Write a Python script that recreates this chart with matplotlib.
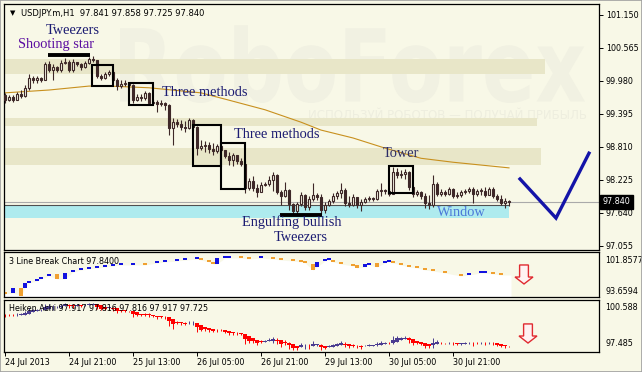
import matplotlib as mpl
import matplotlib.pyplot as plt
from matplotlib.patches import Rectangle, Polygon, PathPatch
from matplotlib.textpath import TextPath
from matplotlib.font_manager import FontProperties
from matplotlib.transforms import Affine2D
import numpy as np

mpl.rcParams['font.family'] = 'DejaVu Sans'

W, H = 642, 372
BG = '#F8F8E7'
BAND = '#E8E6C8'
CANDLE = '#3E2828'
NAVY = '#1C1C72'
FS = 5.8

# ---- USDJPY H1 candles (open of each bar = previous close) ----
first_open = 99.73
closes = [99.64, 99.70, 99.64, 99.75, 99.71, 99.86, 100.03, 100.00, 100.03, 100.00,
          100.28, 100.18, 100.23, 100.18, 100.30, 100.32, 100.18, 100.32, 100.28, 100.23,
          100.30, 100.37, 100.35, 100.07, 100.03, 100.10, 100.14, 100.00, 99.89, 99.93,
          99.95, 99.91, 99.64, 99.70, 99.68, 99.77, 99.59, 99.61, 99.57, 99.59,
          99.56, 99.15, 99.25, 99.22, 99.17, 99.15, 99.29, 99.17, 98.79, 98.83,
          98.85, 98.78, 98.74, 98.83, 98.76, 98.65, 98.58, 98.67, 98.56, 98.51,
          98.08, 98.21, 98.08, 98.01, 98.14, 98.15, 98.23, 98.31, 98.01, 97.94,
          98.05, 97.80, 97.68, 97.80, 97.96, 97.75, 97.89, 97.96, 97.92, 97.69,
          97.78, 97.85, 97.94, 97.99, 98.05, 97.82, 97.78, 97.92, 97.78, 97.84,
          97.89, 97.91, 97.89, 98.03, 98.05, 98.03, 97.98, 98.37, 98.31, 98.33,
          98.37, 98.10, 97.98, 98.01, 97.94, 97.82, 97.78, 98.15, 97.98, 98.01,
          97.98, 98.07, 97.94, 97.96, 98.01, 98.03, 98.07, 97.98, 98.03, 98.03,
          97.96, 98.07, 97.94, 97.89, 97.82, 97.85, 97.84]
highs = [99.77, 99.73, 99.73, 99.79, 99.82, 99.91, 100.10, 100.07, 100.07, 100.05,
         100.32, 100.34, 100.28, 100.25, 100.35, 100.39, 100.35, 100.37, 100.32, 100.30,
         100.34, 100.41, 100.42, 100.35, 100.10, 100.14, 100.18, 100.18, 100.03, 100.00,
         100.00, 99.96, 99.93, 99.75, 99.75, 99.80, 99.79, 99.66, 99.64, 99.64,
         99.61, 99.57, 99.32, 99.31, 99.29, 99.27, 99.32, 99.31, 99.18, 98.93,
         98.92, 98.90, 98.88, 98.86, 98.85, 98.76, 98.72, 98.70, 98.63, 98.62,
         98.58, 98.26, 98.30, 98.15, 98.19, 98.19, 98.30, 98.37, 98.33, 98.05,
         98.19, 98.07, 97.82, 97.84, 98.01, 97.98, 97.94, 98.17, 97.99, 97.98,
         97.84, 97.89, 97.99, 98.03, 98.17, 98.08, 97.94, 97.98, 97.92, 97.89,
         97.92, 97.94, 97.92, 98.07, 98.17, 98.07, 98.08, 98.46, 98.44, 98.40,
         98.42, 98.38, 98.12, 98.05, 98.03, 97.99, 97.96, 98.31, 98.19, 98.07,
         98.05, 98.10, 98.08, 98.01, 98.05, 98.07, 98.10, 98.10, 98.07, 98.08,
         98.10, 98.10, 98.10, 97.98, 97.96, 97.91, 97.87]
lows = [99.59, 99.63, 99.61, 99.64, 99.68, 99.70, 99.82, 99.95, 99.95, 99.96,
        100.00, 100.14, 100.00, 100.14, 100.14, 100.28, 100.14, 100.14, 100.25, 100.18,
        100.21, 100.28, 100.32, 100.03, 100.00, 100.02, 100.07, 99.96, 99.82, 99.86,
        99.89, 99.86, 99.59, 99.63, 99.63, 99.64, 99.56, 99.57, 99.43, 99.54,
        99.47, 99.02, 98.85, 99.17, 99.11, 99.08, 99.13, 99.11, 98.67, 98.76,
        98.72, 98.70, 98.67, 98.70, 98.72, 98.62, 98.49, 98.47, 98.51, 98.47,
        97.99, 98.05, 98.03, 97.92, 98.03, 98.12, 98.12, 98.03, 97.98, 97.78,
        97.92, 97.69, 97.62, 97.62, 97.76, 97.69, 97.69, 97.85, 97.87, 97.62,
        97.64, 97.76, 97.82, 97.89, 97.91, 97.76, 97.75, 97.76, 97.73, 97.68,
        97.82, 97.85, 97.85, 97.87, 97.94, 97.98, 97.94, 97.99, 98.26, 98.26,
        98.24, 98.05, 97.92, 97.94, 97.89, 97.73, 97.71, 97.75, 97.94, 97.94,
        97.94, 97.96, 97.91, 97.91, 97.92, 97.98, 97.99, 97.82, 97.94, 97.96,
        97.92, 97.96, 97.91, 97.85, 97.78, 97.73, 97.76]

# moving average read at a few bars
ma_bars = [0, 11, 21, 26, 36, 49, 56, 65, 74, 79, 87, 95, 104, 112, 126]
ma_vals = [99.77, 99.82, 99.89, 99.89, 99.86, 99.77, 99.64, 99.47, 99.25, 99.11,
           98.97, 98.79, 98.61, 98.54, 98.44]

price_ticks = [101.150, 100.565, 99.980, 99.395, 98.810, 98.225, 97.640, 97.055]
last_price = 97.840

time_bars = [0, 16, 32, 48, 64, 80, 96, 112]
time_labels = ['24 Jul 2013', '24 Jul 21:00', '25 Jul 13:00', '26 Jul 05:00',
               '26 Jul 21:00', '29 Jul 13:00', '30 Jul 05:00', '30 Jul 21:00']

# zones: (low, high, last bar)
zones = [(100.104, 100.370, 135), (99.182, 99.324, 133), (98.491, 98.792, 134)]
window_zone = (97.552, 97.782, 126)

# pattern boxes: (left bar, right bar, low, high)
boxes = [(21.75, 27, 99.891, 100.264), (31, 37, 99.555, 99.945),
         (47, 54, 98.473, 99.20), (54, 60, 98.066, 98.881), (96, 102, 97.995, 98.473)]
tweezer_lines = [(10.75, 21.25, 100.44), (68.75, 79.25, 97.60)]

# annotations: (text, bar, price, colour)
notes = [('Tweezers', 17, 100.875, NAVY), ('Shooting star', 12.8, 100.625, '#5A0CA0'),
         ('Three methods', 50, 99.78, NAVY), ('Three methods', 68, 99.04, NAVY),
         ('Tower', 99, 98.69, '#2C2C66'), ('Engulfing bullish', 71.8, 97.48, NAVY),
         ('Tweezers', 74, 97.20, NAVY), ('Window', 114, 97.64, '#4A78D8')]

check_bars = [128.75, 137.75, 146]
check_prices = [98.243, 97.55, 98.70]

# 3 line break bricks
lb_bars = [0, 2, 4, 5, 6, 8, 9, 11, 13, 15, 17, 19, 21, 23, 25, 27, 29, 32, 35, 38,
           40, 43, 45, 48, 49, 51, 52, 53, 55, 56, 59, 61, 64, 67, 69, 72, 74, 75, 77, 78,
           80, 81, 82, 84, 87, 88, 90, 91, 93, 95, 96, 97, 99, 101, 103, 105, 107, 110, 114, 116,
           119, 120, 122, 124]
lb_top = [94.62, 95.34, 95.34, 96.25, 96.61, 96.97, 97.33, 97.88, 97.88, 98.06,
          98.60, 98.96, 99.14, 99.33, 99.51, 99.69, 99.87, 99.87, 99.87, 100.23,
          100.41, 100.59, 100.77, 100.95, 100.77, 100.41, 100.05, 100.77, 101.13, 101.13,
          101.13, 100.95, 101.13, 100.95, 100.77, 100.59, 100.41, 100.23, 99.69, 100.05,
          100.59, 100.77, 100.41, 100.05, 99.69, 99.51, 99.69, 99.87, 99.87, 100.23,
          100.41, 100.23, 99.87, 99.51, 99.33, 98.96, 98.78, 98.42, 97.88, 98.06,
          98.42, 98.42, 98.24, 98.06]
lb_bot = [94.26, 94.44, 93.90, 95.34, 96.25, 96.61, 96.97, 97.52, 96.97, 96.97,
          98.24, 98.60, 98.78, 98.96, 99.14, 99.33, 99.51, 99.51, 99.51, 99.87,
          100.05, 100.23, 100.41, 100.59, 100.41, 100.05, 99.69, 99.69, 100.77, 100.77,
          100.77, 100.59, 100.77, 100.59, 100.41, 100.23, 100.05, 99.87, 98.60, 99.14,
          100.23, 100.41, 100.05, 99.69, 99.33, 98.96, 99.14, 99.51, 99.14, 99.87,
          100.05, 99.87, 99.51, 99.14, 98.96, 98.60, 98.42, 98.06, 97.52, 97.70,
          98.06, 98.06, 97.88, 97.70]
lb_up = [0, 1, 0, 1, 1, 1, 1, 1, 0, 1, 1, 1, 1, 1, 1, 1, 1, 1, 0, 1,
         1, 1, 1, 1, 0, 0, 0, 1, 1, 1, 0, 0, 1, 0, 0, 0, 0, 0, 0, 1,
         1, 1, 0, 0, 0, 0, 1, 1, 0, 1, 1, 0, 0, 0, 0, 0, 0, 0, 0, 1,
         1, 1, 0, 0]
lb_range = (93.6594, 101.8577)
ha_range = (97.485, 100.588)


def add_px_axes(fig, x0, y0, x1, y1):
    ax = fig.add_axes([x0 / W, 1 - y1 / H, (x1 - x0) / W, (y1 - y0) / H])
    ax.set_facecolor(BG)
    for s in ax.spines.values():
        s.set_color('black')
        s.set_linewidth(0.9)
    return ax


def down_arrow(ax, xc, top, neck, tip, hs, hh):
    pts = [(xc - hs, top), (xc + hs, top), (xc + hs, neck), (xc + hh, neck),
           (xc, tip), (xc - hh, neck), (xc - hs, neck)]
    ax.add_patch(Polygon(pts, closed=True, fc='#FFF2F2', ec='#E02A30', lw=1.0, zorder=6))


fig = plt.figure(figsize=(W / 100, H / 100), dpi=100, facecolor=BG)
XL = (-0.25, 148.5)

# ---------------- main chart ----------------
ax1 = add_px_axes(fig, 4, 4, 599, 250)
ax1.set_xlim(*XL)
ax1.set_ylim(96.984, 101.345)

fp = FontProperties(family='DejaVu Sans', weight='bold')
tp = TextPath((0, 0), 'RoboForex', size=1, prop=fp)
ext = tp.get_extents()
wm = (28.75, 145, 99.59, 100.97)
tr = (Affine2D().translate(-ext.x0, -ext.y0)
      .scale((wm[1] - wm[0]) / ext.width, (wm[3] - wm[2]) / ext.height)
      .translate(wm[0], wm[2]))
ax1.add_patch(PathPatch(tr.transform_path(tp), fc='#F1F1E2', ec='none', zorder=0.5))
ax1.text(145.5, 99.36, 'ИСПОЛЬЗУЙ РОБОТОВ — ПОЛУЧАЙ ПРИБЫЛЬ', ha='right', va='center',
         fontsize=8.5, color='#EEEEDF', zorder=0.6)

for lo, hi, end in zones:
    ax1.fill_between([XL[0], end], lo, hi, color=BAND, lw=0, zorder=1)
ax1.fill_between([XL[0], window_zone[2]], window_zone[0], window_zone[1],
                 color='#AEEBEE', lw=0, zorder=1)
ax1.hlines(window_zone[1], XL[0], window_zone[2], color='#505050', lw=0.8, zorder=1.5)
ax1.axhline(last_price, color='#AAAAAA', lw=0.8, zorder=1.4)

ax1.plot(ma_bars, ma_vals, color='#C8901E', lw=0.8, zorder=2)

opens = [first_open] + closes[:-1]
idx = np.arange(len(closes))
o = np.array(opens)
c = np.array(closes)
h = np.maximum(np.array(highs), np.maximum(o, c))
l = np.minimum(np.array(lows), np.minimum(o, c))
ax1.vlines(idx, l, h, color=CANDLE, lw=0.8, zorder=3)
body_lo = np.minimum(o, c)
body_h = np.maximum(np.abs(c - o), 0.012)
up = c >= o
ax1.bar(idx[up], body_h[up], bottom=body_lo[up], width=0.55, color=BG,
        edgecolor=CANDLE, lw=0.8, zorder=3.2)
ax1.bar(idx[~up], body_h[~up], bottom=body_lo[~up], width=0.55, color=CANDLE,
        edgecolor=CANDLE, lw=0.8, zorder=3.2)

for x0, x1, lo, hi in boxes:
    ax1.add_patch(Rectangle((x0, lo), x1 - x0, hi - lo, fill=False, ec='black',
                            lw=1.5, zorder=4))
for x0, x1, y in tweezer_lines:
    ax1.plot([x0, x1], [y, y], color='black', lw=2.8, solid_capstyle='butt', zorder=4)

for txt, xb, yp, col in notes:
    ax1.text(xb, yp, txt, ha='center', va='center', fontsize=10.4, color=col,
             family='Liberation Serif', zorder=5)

ax1.plot(check_bars, check_prices, color='#1414A8', lw=2.4, solid_joinstyle='miter',
         zorder=5)

ax1.set_xticks([])
ax1.yaxis.tick_right()
ax1.set_yticks(price_ticks, [f'{v:.3f}' for v in price_ticks])
ax1.tick_params(axis='y', length=3, width=0.7, pad=2, labelsize=FS)
ax1.annotate(f'{last_price:.3f}', xy=(1, last_price), xycoords=('axes fraction', 'data'),
             xytext=(2.5, 0), textcoords='offset points', ha='left', va='center',
             fontsize=FS, color='white',
             bbox=dict(boxstyle='square,pad=0.3', fc='black', ec='black'))
ax1.text(0.0101, 0.963, '▼', transform=ax1.transAxes, ha='left', va='center',
         fontsize=5, color='black')
ax1.text(0.0286, 0.963, 'USDJPY.m,H1  97.841 97.858 97.725 97.840',
         transform=ax1.transAxes, ha='left', va='center', fontsize=6.0, color='black')

# ---------------- 3 line break ----------------
ax2 = add_px_axes(fig, 4, 252, 599, 297.3)
ax2.set_xlim(*XL)
ax2.set_ylim(*lb_range)
fx = [XL[0]] + lb_bars + [126.5]
fy = [lb_bot[0]] + lb_bot + [lb_bot[-1]]
ax2.fill_between(fx, lb_range[0], fy, color='white', lw=0, zorder=1)
lb_t = np.array(lb_top)
lb_b = np.array(lb_bot)
lb_col = ['#1212E0' if u else '#F0A030' for u in lb_up]
ax2.bar(lb_bars, lb_t - lb_b, bottom=lb_b, width=0.9, color=lb_col, lw=0, zorder=2)
down_arrow(ax2, 129.75, 99.51, 97.33, 96.07, 1.1, 2.25)
ax2.set_xticks([])
ax2.set_yticks([])
ax2.text(0.0084, 0.80, '3 Line Break Chart 97.8400', transform=ax2.transAxes,
         ha='left', va='center', fontsize=FS, color='black', zorder=7)
ax2.text(1.0101, 0.823, f'{lb_range[1]:.4f}', transform=ax2.transAxes, ha='left',
         va='center', fontsize=FS, clip_on=False)
ax2.text(1.0101, 0.117, f'{lb_range[0]:.4f}', transform=ax2.transAxes, ha='left',
         va='center', fontsize=FS, clip_on=False)

# ---------------- Heiken Ashi ----------------
ax3 = add_px_axes(fig, 4, 300, 599, 352)
ax3.set_xlim(*XL)
ax3.set_ylim(*ha_range)
ha_c = (o + h + l + c) / 4
ha_o = np.empty_like(ha_c)
ha_o[0] = (o[0] + c[0]) / 2
for i in range(1, len(ha_c)):
    ha_o[i] = (ha_o[i - 1] + ha_c[i - 1]) / 2
ha_h = np.maximum(h, np.maximum(ha_o, ha_c))
ha_l = np.minimum(l, np.minimum(ha_o, ha_c))
ha_col = np.where(ha_c >= ha_o, '#4A3C90', '#FF0000')
ax3.vlines(idx, ha_l, ha_h, colors=ha_col, lw=0.7, zorder=2)
ax3.bar(idx, np.maximum(np.abs(ha_c - ha_o), 0.03), bottom=np.minimum(ha_o, ha_c),
        width=0.8, color=ha_col, lw=0, zorder=3)
down_arrow(ax3, 130.75, 99.16, 98.44, 98.02, 1.1, 2.25)
ax3.set_yticks([])
ax3.set_xticks(time_bars, time_labels)
for lab in ax3.get_xticklabels():
    lab.set_ha('left')
ax3.tick_params(axis='x', length=3, width=0.7, pad=1.5, labelsize=FS)
ax3.text(0.0084, 0.827, 'Heiken Ashi 97.917 97.816 97.816 97.917 97.725',
         transform=ax3.transAxes, ha='left', va='center', fontsize=FS, color='black',
         zorder=7)
ax3.text(1.0101, 0.865, f'{ha_range[1]:.3f}', transform=ax3.transAxes, ha='left',
         va='center', fontsize=FS, clip_on=False)
ax3.text(1.0101, 0.154, f'{ha_range[0]:.3f}', transform=ax3.transAxes, ha='left',
         va='center', fontsize=FS, clip_on=False)

fig.add_artist(Rectangle((0, 0), 1, 1, transform=fig.transFigure, fill=False,
                         ec='#A0A0A0', lw=1.2))

fig.savefig('out.png', dpi=100, facecolor=BG)
